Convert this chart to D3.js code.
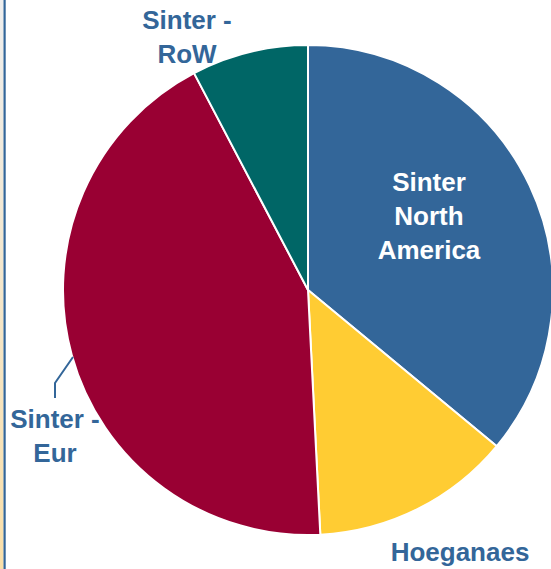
<!DOCTYPE html>
<html>
<head>
<meta charset="utf-8">
<script src="https://cdn.jsdelivr.net/npm/d3@7"></script>
<style>
  html, body { margin: 0; padding: 0; background: #fff; }
  svg { display: block; }
</style>
</head>
<body>
<svg id="chart" width="551" height="569"></svg>
<script>
const categories = ["Sinter North America", "Hoeganaes", "Sinter - Eur", "Sinter - RoW"];
const values = [36.0, 13.2, 43.1, 7.7];
const colors = ["#336699", "#FFCC33", "#990033", "#006666"];
const labelLines = [["Sinter", "North", "America"], ["Hoeganaes"], ["Sinter -", "Eur"], ["Sinter -", "RoW"]];

const svg = d3.select("#chart");
const W = 551, H = 569;
const cx = 308, cy = 290, R = 245;

// left border strip
const defs = svg.append("defs");
const grad = defs.append("linearGradient").attr("id", "edge").attr("x1", 0).attr("y1", 0).attr("x2", 0).attr("y2", 1);
grad.append("stop").attr("offset", "0%").attr("stop-color", "#eeeeee");
grad.append("stop").attr("offset", "100%").attr("stop-color", "#fadfa8");
svg.append("rect").attr("x", 0).attr("y", 0).attr("width", 3.5).attr("height", H).attr("fill", "url(#edge)");
svg.append("rect").attr("x", 3.5).attr("y", 0).attr("width", 2.2).attr("height", H).attr("fill", "#336699");

const data = categories.map((c, i) => ({ name: c, value: values[i], color: colors[i], lines: labelLines[i] }));

const pie = d3.pie().value(d => d.value).sort(null);
const arc = d3.arc().innerRadius(0).outerRadius(R);
const arcs = pie(data);

const g = svg.append("g").attr("transform", `translate(${cx},${cy})`);
g.selectAll("path").data(arcs).enter().append("path")
  .attr("d", arc)
  .attr("fill", d => d.data.color)
  .attr("stroke", "#fff")
  .attr("stroke-width", 2)
  .attr("stroke-linejoin", "round");

const labelPos = [
  { x: 429, y: 191, fill: "#fff" },
  { x: 460, y: 561, fill: "#336699" },
  { x: 55, y: 428, fill: "#336699" },
  { x: 187, y: 29, fill: "#336699" }
];
const lineH = 34;

data.forEach((d, i) => {
  const p = labelPos[i];
  const t = svg.append("text")
    .attr("x", p.x).attr("y", p.y)
    .attr("text-anchor", "middle")
    .attr("font-family", "'Liberation Sans', Arial, sans-serif")
    .attr("font-weight", "bold")
    .attr("font-size", "26px")
    .attr("fill", p.fill);
  d.lines.forEach((ln, j) => {
    t.append("tspan").attr("x", p.x).attr("y", p.y + j * lineH).text(ln);
  });
});

// leader line for Sinter - Eur
svg.append("polyline")
  .attr("points", [[73, 357], [55, 383], [55, 398]].map(p => p.join(",")).join(" "))
  .attr("fill", "none")
  .attr("stroke", "#336699")
  .attr("stroke-width", 2);
</script>
</body>
</html>
